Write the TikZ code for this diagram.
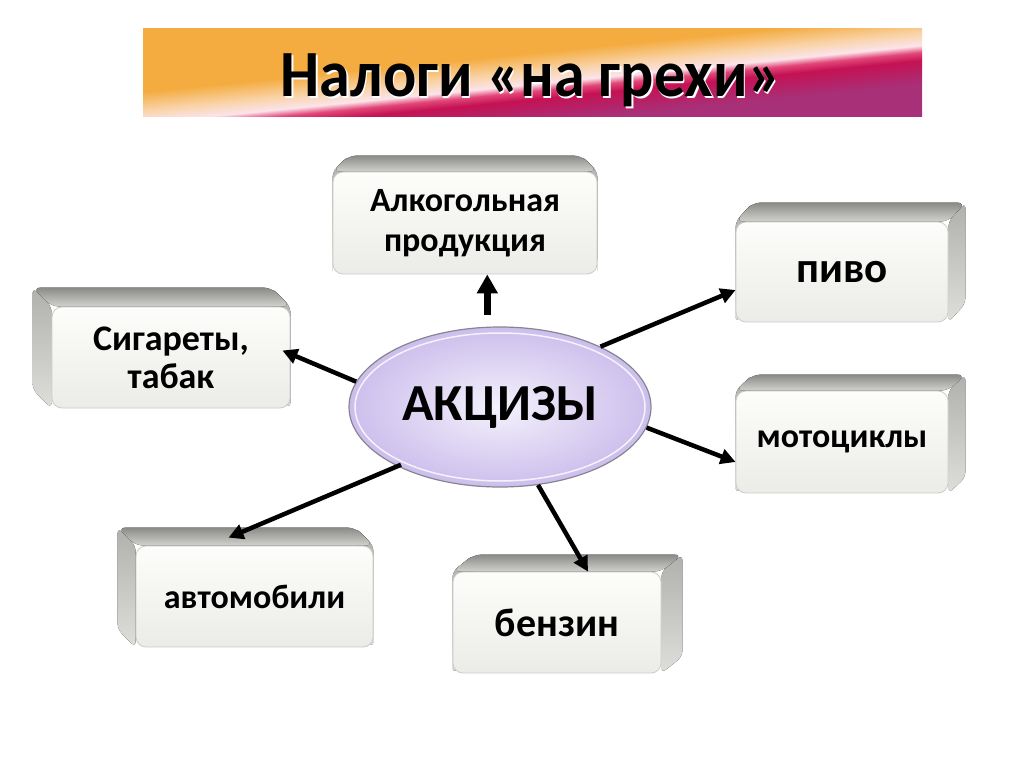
\documentclass[tikz,border=0pt]{standalone}
\usepackage{fontspec}
\setmainfont{Carlito}
\usetikzlibrary{shapes.geometric,arrows.meta,calc}
\pgfdeclarelayer{background}
\pgfsetlayers{background,main}

\definecolor{bandtop}{RGB}{138,138,134}
\definecolor{bandbot}{RGB}{210,210,206}
\definecolor{sidetop}{RGB}{176,176,172}
\definecolor{sidebot}{RGB}{222,222,218}
\definecolor{facetop}{RGB}{253,253,251}
\definecolor{facebot}{RGB}{235,235,231}
\definecolor{faceline}{RGB}{204,204,200}
\definecolor{ovalin}{RGB}{244,241,252}
\definecolor{ovalout}{RGB}{204,190,236}
\definecolor{ovalline}{RGB}{136,132,146}
\definecolor{tOrange}{RGB}{244,172,64}
\definecolor{tPeach}{RGB}{249,210,165}
\definecolor{tPink}{RGB}{251,228,234}
\definecolor{tHot}{RGB}{226,70,120}
\definecolor{tCrim}{RGB}{196,18,84}
\definecolor{tPurp}{RGB}{168,48,120}

\pgfdeclareverticalshading{titlebar}{1000bp}{color(0bp)=(tPurp); color(50bp)=(tPurp);
  color(74bp)=(tCrim); color(82bp)=(tHot); color(89bp)=(tPink); color(102bp)=(tPeach);
  color(120bp)=(tOrange); color(200bp)=(tOrange)}

% back part of a block: node, dx, dy, inset
\newcommand\blockback[4]{%
  \begin{pgfonlayer}{background}
    \path ([shift={(#2pt+#4pt,#3pt)}]#1.north west) coordinate (bnw)
          ([shift={(#2pt-#4pt,#3pt)}]#1.north east) coordinate (bne)
          ([shift={(#2pt,#3pt)}]#1.south west) coordinate (bsw)
          ([shift={(#2pt,#3pt)}]#1.south east) coordinate (bse);
    \fill[sideshade, rounded corners=6pt] (bnw) -- (#1.north west) -- (#1.south west) -- (bsw) -- cycle;
    \fill[sideshade, rounded corners=6pt] (bne) -- (#1.north east) -- (#1.south east) -- (bse) -- cycle;
    \fill[bandshade, rounded corners=8pt] (bnw) -- (bne) -- (#1.north east) -- (#1.north west) -- cycle;
  \end{pgfonlayer}}

\tikzset{
  face/.style={rectangle, rounded corners=10pt, top color=facetop, bottom color=facebot,
    draw=faceline, line width=0.8pt, align=center, inner sep=0pt,
    font=\bfseries\fontsize{34}{40}\selectfont},
  boxsize/.style 2 args={minimum width=#1pt, minimum height=#2pt},
  sideshade/.style={top color=sidetop, bottom color=sidebot},
  bandshade/.style={top color=bandtop, bottom color=bandbot},
  oval/.style={ellipse, minimum width=302pt, minimum height=160pt, inner sep=0pt,
    inner color=ovalin, outer color=ovalout, draw=ovalline, line width=1.2pt,
    font=\bfseries\fontsize{52}{52}\selectfont},
  arr/.style={line width=4.5pt, -{Triangle[length=15pt,width=15pt]}},
  bigarr/.style={line width=6.5pt, -{Triangle[length=19pt,width=20pt]}},
  titletext/.style={font=\bfseries\fontsize{66}{66}\selectfont, xscale=0.94, transform shape}
}

\begin{document}
\begin{tikzpicture}[x=1pt,y=-1pt]
\begin{pgfonlayer}{background}
\fill[white] (0,0) rectangle (1024,767);
\end{pgfonlayer}
\useasboundingbox (0,0) rectangle (1024,767);

% title
\begin{scope}
\clip (143,29) rectangle (922,117);
\node[inner sep=0pt, rotate=5.7] (titlebg) at (532.5,73) {\pgfuseshading{titlebar}};
\end{scope}
\node[titletext, text=white] (titleshade) at (532.5,82) {Налоги «на грехи»};
\node[titletext] (title) at (531,80) {Налоги «на грехи»};

% blocks
\node[face, boxsize={264}{102}] (alko) at (465,223) {Алкогольная\\продукция};
\node[face, boxsize={238}{101}, font=\bfseries\fontsize{36}{38}\selectfont] (sig) at (171,357.5) {Сигареты,\\табак};
\node[face, boxsize={212}{100}, font=\bfseries\fontsize{43}{43}\selectfont] (pivo) at (842,272) {пиво};
\node[face, boxsize={212}{102}] (moto) at (842,442) {мотоциклы};
\node[face, boxsize={237}{101}] (avto) at (254.5,596.5) {автомобили};
\node[face, boxsize={208}{101}, font=\bfseries\fontsize{40}{40}\selectfont] (benz) at (557,622.5) {бензин};

\blockback{alko}{0}{16}{16}
\blockback{sig}{-19}{19}{0}
\blockback{pivo}{17}{19}{0}
\blockback{moto}{17}{16}{0}
\blockback{avto}{-18}{18}{0}
\blockback{benz}{21}{17}{0}

% centre
\node[oval] (acc) at (500,407) {АКЦИЗЫ};
\draw[white, line width=1.5pt, opacity=0.8] (acc.center) ellipse [x radius=145, y radius=74];

% arrows
\draw[bigarr, shorten <=12pt] (acc.99) -- (acc.99 |- alko.south);
\draw[arr] (acc.170) -- ([xshift=-8pt,yshift=7pt]sig.east);
\draw[arr] (acc.31) -- ([yshift=-18pt]pivo.west);
\draw[arr] (acc.352) -- ([yshift=-20pt]moto.west);
\draw[arr] (acc.296) -- ([xshift=31pt]benz.north);
\draw[arr, shorten <=-4pt] (acc.210) -- ([xshift=-26pt,yshift=8pt]avto.north);
\end{tikzpicture}
\end{document}
